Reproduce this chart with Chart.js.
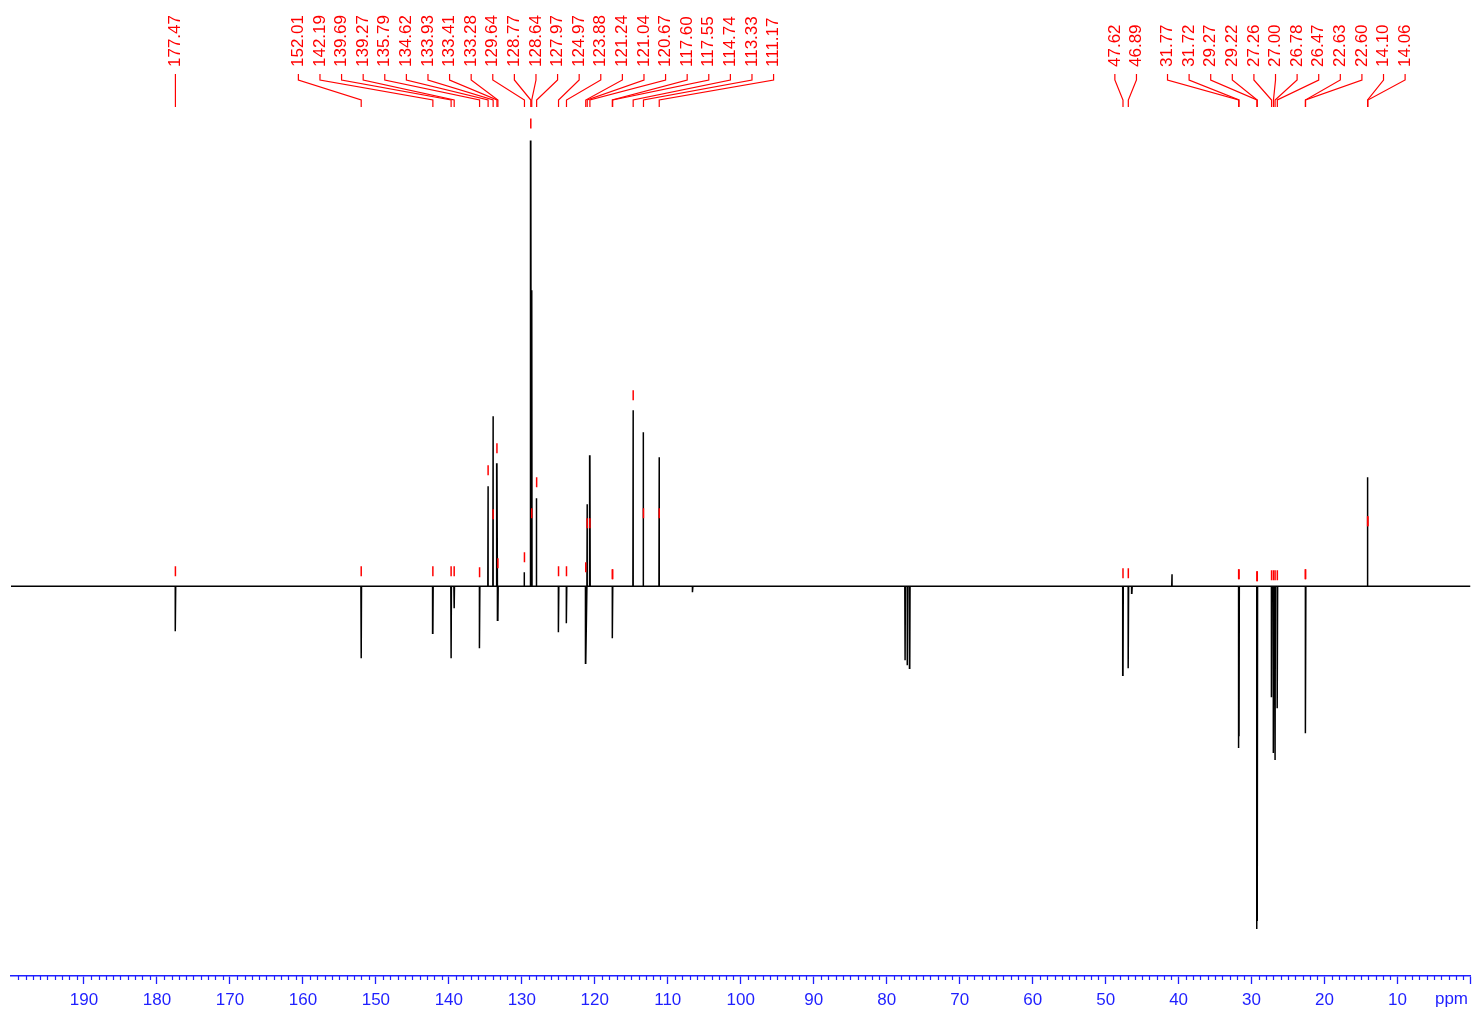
<!DOCTYPE html>
<html>
<head>
<meta charset="utf-8">
<script src="https://cdn.jsdelivr.net/npm/chart.js@4"></script>
<style>
  html, body { margin: 0; padding: 0; background: #fff; }
</style>
</head>
<body>
<canvas id="spectrum" width="1477" height="1014"></canvas>
<script>
// peaks of the spectrum: position (ppm) and height (+ up, - down)
var peakPpm = [177.47, 152.01, 142.19, 139.69, 139.27, 135.79, 134.62, 133.93, 133.41, 133.28,
  129.64, 128.77, 128.64, 127.97, 124.97, 123.88, 121.24, 121.04, 120.67, 117.58,
  114.74, 113.33, 111.17, 106.6, 77.48, 77.16, 76.84, 47.62, 46.89, 46.4,
  40.9, 31.77, 31.72, 29.27, 29.22, 27.26, 27.00, 26.78, 26.47, 22.63,
  22.60, 14.10, 14.06];
var peakHeight = [-45, -72, -47, -72, -22, -62, 100, 170, 123, -34,
  14, 446, 296, 88, -46, -37, -77, 82, 131, -52,
  176, 154, 129, -6, -74, -79, -82, -89, -82, -7,
  12, -162, -150, -343, -335, -111, -167, -174, -122, -147,
  -140, 109, 100];

// picked peaks (labels on top) and the level of their red marks
var labelPpm = [177.47, 152.01, 142.19, 139.69, 139.27, 135.79, 134.62, 133.93, 133.41, 133.28,
  129.64, 128.77, 128.64, 127.97, 124.97, 123.88, 121.24, 121.04, 120.67, 117.60,
  117.55, 114.74, 113.33, 111.17, 47.62, 46.89, 31.77, 31.72, 29.27, 29.22,
  27.26, 27.00, 26.78, 26.47, 22.63, 22.60, 14.10, 14.06];
var markerLevel = [15, 15, 15, 15, 15, 14, 116, 72, 138, 23,
  29, 463, 73, 104, 15, 15, 19, 63, 63, 12,
  12, 191, 73, 73, 13, 13, 12, 12, 10, 10,
  11, 11, 11, 11, 12, 12, 65, 65];

var axisMin = 0, axisMax = 200;
var majorStep = 10, minorStep = 1;

var BLUE = '#1f1fff';
var RED = '#ff0000';
var FONT = '"Liberation Sans", Arial, Helvetica, sans-serif';

// spectrum trace: each peak is a narrow spike on the baseline
var halfWidth = 0.04;
var trace = [{x: axisMin, y: 0}, {x: axisMax, y: 0}];
for (var i = 0; i < peakPpm.length; i++) {
  trace.push({x: peakPpm[i] - halfWidth, y: 0});
  trace.push({x: peakPpm[i], y: peakHeight[i]});
  trace.push({x: peakPpm[i] + halfWidth, y: 0});
}
trace.sort(function(a, b) { return a.x - b.x; });

var markers = labelPpm.map(function(p, i) { return {x: p, y: markerLevel[i]}; });

var minorTicks = {
  id: 'minorTicks',
  afterDraw: function(chart) {
    var ctx = chart.ctx, xs = chart.scales.x;
    ctx.save();
    ctx.strokeStyle = BLUE;
    ctx.lineWidth = 1.2;
    ctx.beginPath();
    for (var p = axisMin + minorStep; p < axisMax; p += minorStep) {
      if (p % majorStep === 0) continue;
      var x = Math.round(xs.getPixelForValue(p)) + 0.5;
      ctx.moveTo(x, xs.top);
      ctx.lineTo(x, xs.top + 4);
    }
    ctx.stroke();
    ctx.fillStyle = BLUE;
    ctx.font = '17px ' + FONT;
    ctx.textAlign = 'center';
    ctx.textBaseline = 'middle';
    ctx.fillText('ppm', xs.getPixelForValue(axisMin) - 19, 999);
    ctx.restore();
  }
};

var peakLabels = {
  id: 'peakLabels',
  afterDraw: function(chart) {
    var ctx = chart.ctx, xs = chart.scales.x;
    var gap = 21.6;
    var groups = labelPpm.map(function(p, i) {
      var px = xs.getPixelForValue(p);
      return {idx: [i], sum: px, center: px};
    });
    var merged = true;
    while (merged) {
      merged = false;
      for (var g = 0; g < groups.length - 1; g++) {
        var a = groups[g], b = groups[g + 1];
        var aRight = a.center + (a.idx.length - 1) / 2 * gap;
        var bLeft = b.center - (b.idx.length - 1) / 2 * gap;
        if (bLeft - aRight < gap) {
          var idx = a.idx.concat(b.idx);
          var sum = a.sum + b.sum;
          groups.splice(g, 2, {idx: idx, sum: sum, center: sum / idx.length});
          merged = true;
          break;
        }
      }
    }
    ctx.save();
    ctx.strokeStyle = RED;
    ctx.fillStyle = RED;
    ctx.lineWidth = 1.2;
    ctx.font = '17px ' + FONT;
    groups.forEach(function(grp) {
      var n = grp.idx.length;
      grp.idx.forEach(function(li, k) {
        var lx = grp.center + (k - (n - 1) / 2) * gap;
        var px = xs.getPixelForValue(labelPpm[li]);
        ctx.beginPath();
        ctx.moveTo(lx, 74);
        ctx.lineTo(lx, 80);
        ctx.lineTo(px, 100);
        ctx.lineTo(px, 107);
        ctx.stroke();
        ctx.save();
        ctx.translate(lx, 67);
        ctx.rotate(-Math.PI / 2);
        ctx.textAlign = 'left';
        ctx.textBaseline = 'middle';
        ctx.fillText(labelPpm[li].toFixed(2), 0, 0);
        ctx.restore();
      });
    });
    ctx.restore();
  }
};

new Chart(document.getElementById('spectrum'), {
  type: 'line',
  data: {
    datasets: [
      {
        type: 'scatter',
        data: markers,
        pointStyle: 'line',
        rotation: 90,
        radius: 5,
        borderColor: RED,
        borderWidth: 1.5,
        order: 0
      },
      {
        data: trace,
        borderColor: '#000',
        borderWidth: 1.5,
        pointRadius: 0,
        tension: 0,
        fill: false,
        order: 1
      }
    ]
  },
  options: {
    responsive: false,
    animation: false,
    devicePixelRatio: 1,
    layout: { padding: { left: 11, right: 5, top: 0, bottom: 0 } },
    plugins: { legend: { display: false }, tooltip: { enabled: false } },
    scales: {
      x: {
        type: 'linear',
        reverse: true,
        min: axisMin,
        max: axisMax,
        afterFit: function(s) { s.height = 38; },
        border: { color: BLUE, width: 1.5 },
        grid: {
          drawOnChartArea: false,
          drawTicks: true,
          tickLength: 8,
          tickWidth: 1.3,
          tickColor: function(c) { return c.tick && c.tick.value === axisMax ? 'rgba(0,0,0,0)' : BLUE; }
        },
        ticks: {
          stepSize: majorStep,
          autoSkip: false,
          maxRotation: 0,
          padding: 6,
          color: BLUE,
          font: { size: 17, family: FONT },
          callback: function(v) { return (v === axisMin || v === axisMax) ? '' : String(v); }
        }
      },
      y: {
        display: false,
        min: -390,
        max: 580
      }
    }
  },
  plugins: [minorTicks, peakLabels]
});
</script>
</body>
</html>
